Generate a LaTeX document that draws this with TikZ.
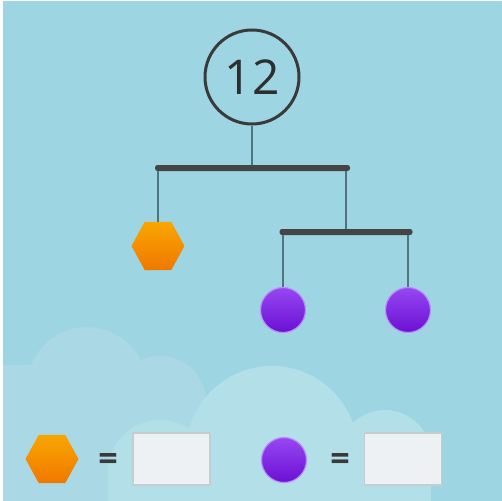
\documentclass[tikz,border=0pt]{standalone}
\usepackage{fontspec}
\setmainfont{Open Sans}
\usetikzlibrary{shapes.geometric}
\definecolor{bgblue}{HTML}{9ED5E3}
\definecolor{cloudA}{HTML}{AAD9E5}
\definecolor{cloudB}{HTML}{B3DFE9}
\definecolor{wirec}{HTML}{4F7580}
\definecolor{barc}{HTML}{454545}
\definecolor{ringc}{HTML}{3A3A3A}
\definecolor{orgtop}{HTML}{F9A600}
\definecolor{orgbot}{HTML}{F07800}
\definecolor{purtop}{HTML}{9747F2}
\definecolor{purbot}{HTML}{6A10D4}
\definecolor{purrim}{HTML}{B890F5}
\definecolor{boxfill}{HTML}{EDF1F3}
\definecolor{boxline}{HTML}{C5CDD0}
\tikzset{
  wire/.style={draw=wirec, line width=2pt},
  barbox/.style={rectangle, fill=barc, rounded corners=2.5pt, minimum height=6pt, inner sep=0pt},
  hexshape/.style={regular polygon, regular polygon sides=6, minimum size=53pt, inner sep=0pt, top color=orgtop, bottom color=orgbot, draw=none, yscale=1.05},
  ball/.style={circle, minimum size=45pt, inner sep=0pt, top color=purtop, bottom color=purbot, draw=purrim, line width=1.2pt},
  answerbox/.style={rectangle, minimum width=77pt, minimum height=52pt, fill=boxfill, draw=boxline, line width=1.5pt, inner sep=0pt},
  eqsign/.style={font=\fontsize{34}{34}\selectfont\bfseries, text=ringc, inner sep=0pt},
}
\begin{document}
\begin{tikzpicture}[x=1pt, y=-1pt]
\useasboundingbox (0,0) rectangle (502,500);
\fill[white] (-5,-5) rectangle (510,510);
\fill[bgblue] (3,1) rectangle (510,510);
% clouds
\fill[cloudA] (3,365) rectangle (120,510);
\fill[cloudA] (87,387) circle (60);
\fill[cloudA] (160,402) circle (46);
\fill[cloudA] (114,402) rectangle (206,510);
\fill[cloudB] (272,452) circle (86);
\fill[cloudB] (385,456) circle (46);
\fill[cloudB] (160,472) circle (52);
\fill[cloudB] (108,472) rectangle (212,510);
\fill[cloudB] (339,456) rectangle (431,510);
\fill[cloudB] (186,452) rectangle (358,510);
% mobile
\node[circle, draw=ringc, line width=3pt, minimum size=94pt, inner sep=0pt, fill=bgblue,
      font=\fontsize{48}{48}\selectfont, text=ringc!80!black] (c12) at (252,77) {12};
\node[barbox, minimum width=195pt] (bar1) at (252.5,168) {};
\node[barbox, minimum width=133pt] (bar2) at (346,232) {};
\node[hexshape] (hexA) at (158,246) {};
\node[ball] (ballA) at (283,310) {};
\node[ball] (ballB) at (408,310) {};
\draw[wire] (c12.south) -- (c12.south |- bar1.north);
\draw[wire] (hexA.north) -- (hexA.north |- bar1.south);
\draw[wire] (bar2.north) -- (bar2.north |- bar1.south);
\draw[wire] (ballA.north) -- (ballA.north |- bar2.south);
\draw[wire] (ballB.north) -- (ballB.north |- bar2.south);
% legend
\node[hexshape] (hexL) at (52,459) {};
\node[eqsign] (eq1) at (108,462) {=};
\node[answerbox] (box1) at (171.5,459) {};
\node[ball] (ballL) at (284,460) {};
\node[eqsign] (eq2) at (340,462) {=};
\node[answerbox] (box2) at (403,459) {};
\end{tikzpicture}
\end{document}
